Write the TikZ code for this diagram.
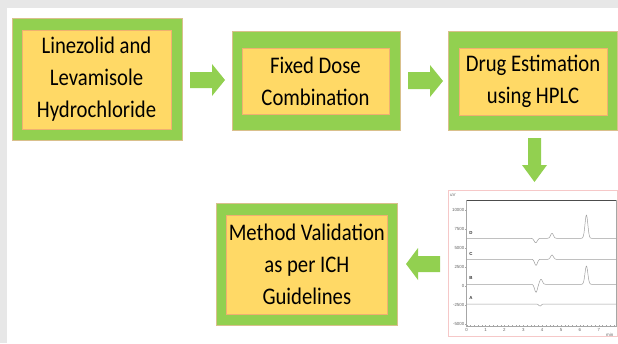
\documentclass[tikz,border=0pt]{standalone}
\usepackage{fontspec}
\setmainfont[FakeStretch=0.87]{Carlito}
\newfontfamily\tickfont{Liberation Sans}
\definecolor{grn}{HTML}{92D050}
\definecolor{yel}{HTML}{FFD966}
\definecolor{tanb}{HTML}{D9C08C}
\definecolor{orgb}{HTML}{F0B070}
\definecolor{bgg}{HTML}{E7E7E7}
\definecolor{pinkb}{HTML}{F6C8C8}
\begin{document}
\begin{tikzpicture}[x=1pt,y=-1pt,
  outerbox/.style={draw=tanb, line width=0.8pt, fill=grn, inner sep=0pt},
  innerbox/.style={draw=orgb, line width=0.6pt, fill=yel, inner sep=0pt, align=center,
    font=\fontsize{23.8}{32}\selectfont},
  blockarrow/.style={fill=grn, draw=none},
  trace/.style={draw=gray!75, line width=0.5pt},
  tick/.style={font=\tickfont\fontsize{4.4}{5}\selectfont, text=gray!80!black, inner sep=0.5pt},
  declare function={g(\u,\c,\w)=exp(max(-20,-((\u-\c)/\w)*((\u-\c)/\w)));}
]
\useasboundingbox (0,0) rectangle (618,343);
% background
\fill[white] (0,0) rectangle (618,343);
\fill[bgg] (0,0) rectangle (618,8);
\fill[bgg] (0,0) rectangle (7,343);

% boxes
\node[outerbox, minimum width=169.5pt, minimum height=121.5pt] (o1) at (97.25,79.25) {};
\node[innerbox, minimum width=149pt, minimum height=99pt] (b1) at (96.5,79.5) {Linezolid and\\Levamisole\\Hydrochloride};

\node[outerbox, minimum width=168.7pt, minimum height=99pt] (o2) at (316.35,80.5) {};
\node[innerbox, minimum width=147pt, minimum height=66pt] (b2) at (315.5,81) {Fixed Dose\\Combination};

\node[outerbox, minimum width=168.3pt, minimum height=98.3pt] (o3) at (532.85,80.85) {};
\node[innerbox, minimum width=148pt, minimum height=67pt] (b3) at (533,81.5) {Drug Estimation\\using HPLC};

\node[outerbox, minimum width=181.7pt, minimum height=121.7pt] (o4) at (306.85,264.15) {};
\node[innerbox, minimum width=161.7pt, minimum height=99.3pt] (b4) at (306.85,264.65) {Method Validation\\as per ICH\\Guidelines};

% block arrows
\fill[blockarrow] (190,72) -- (212,72) -- (212,64) -- (225,80) -- (212,96) -- (212,88) -- (190,88) -- cycle;
\fill[blockarrow] (408,72) -- (430,72) -- (430,65) -- (443,81) -- (430,97) -- (430,89) -- (408,89) -- cycle;
\fill[blockarrow] (528,138) -- (541,138) -- (541,165) -- (547,165) -- (534.5,182) -- (522,165) -- (528,165) -- cycle;
\fill[blockarrow] (440,256) -- (418,256) -- (418,248) -- (406,264) -- (418,280) -- (418,272) -- (440,272) -- cycle;

% chromatogram
\node[draw=pinkb, line width=0.6pt, fill=white, minimum width=169.7pt, minimum height=146pt, inner sep=0pt] (chrom) at (532.85,263.7) {};
\draw[gray!70, line width=0.5pt] (466.7,200.7) rectangle (616,326.7);
\draw[gray!60!black, line width=0.6pt] (466.7,200.7) -- (616,200.7);
\node[tick, anchor=west] at (449.5,195) {uV};
\node[tick, anchor=east] at (614,334.5) {min};
\foreach \v/\lab in {10000/10000,7500/7500,5000/5000,2500/2500,0/0,-2500/-2500,-5000/-5000}{
  \draw[gray!70, line width=0.4pt] (465,{285.7-0.0076*\v}) -- (466.7,{285.7-0.0076*\v});
  \node[tick, anchor=east] at (465,{285.7-0.0076*\v}) {\lab};
}
\foreach \t in {0,...,7}{
  \node[tick, anchor=north] at ({466.7+18.86*\t},327.5) {\t};
}
\foreach \k in {0,...,39}{
  \draw[gray!70, line width=0.3pt] ({466.7+18.86*\k/5},326.7) -- ({466.7+18.86*\k/5},325.2);
}
% traces
\draw[trace] plot[domain=466.7:616, samples=300] (\x, {238.3 + 4.4*g(\x,535.7,2.2) - 5*g(\x,552,2) - 23.3*g(\x,586.4,2)});
\draw[trace] plot[domain=466.7:616, samples=300] (\x, {259.3 + 6*g(\x,536,2) - 4.3*g(\x,552,2)});
\draw[trace] plot[domain=466.7:616, samples=300] (\x, {284.3 + 8*g(\x,536,2) - 5*g(\x,541,2) - 18.3*g(\x,586.4,2)});
\draw[trace] plot[domain=466.7:616, samples=300] (\x, {304 + 2*g(\x,540,1.8)});
\foreach \n/\yy in {D/232.7,C/253.5,B/278.3,A/298.3}{
  \node[tick, font=\tickfont\bfseries\fontsize{4.4}{5}\selectfont, text=black!80] at (471,\yy) {\n};
}
\end{tikzpicture}
\end{document}
